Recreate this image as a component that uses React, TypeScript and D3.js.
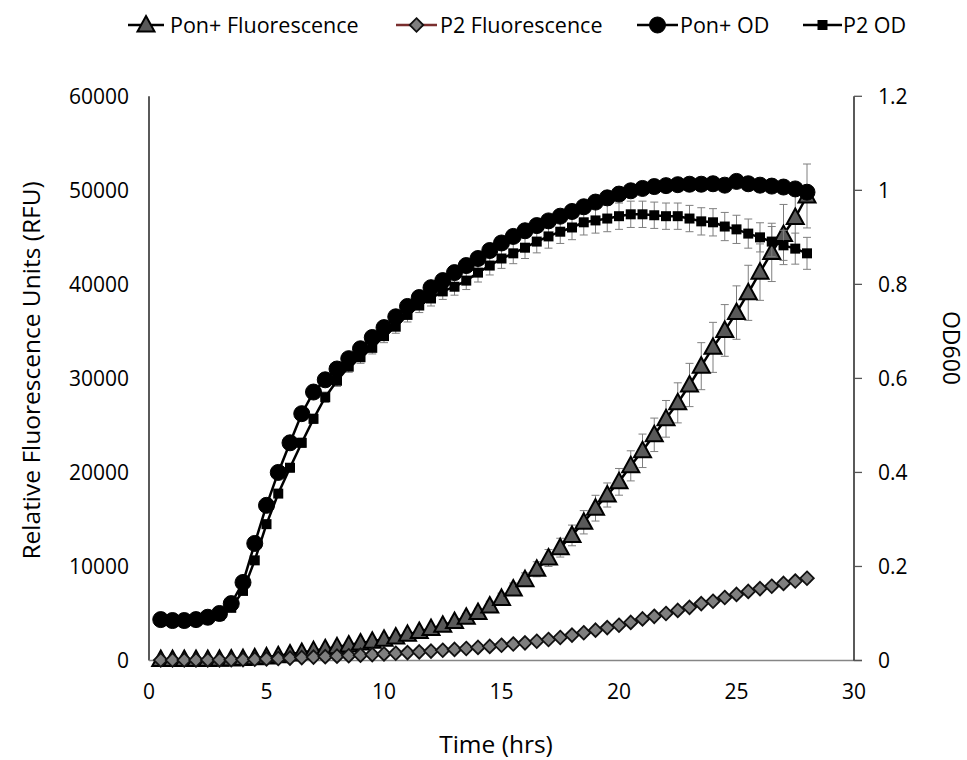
import React from "react";
import * as d3 from "d3";

const times = d3.range(1, 57).map((i) => i * 0.5);

const ponFluor = [100, 100, 100, 100, 100, 120, 150, 200, 280, 380, 500, 680, 850, 1050, 1250, 1450, 1650, 1850, 2050, 2250, 2500, 2780, 3080, 3400, 3750, 4150, 4600, 5100, 5800, 6600, 7600, 8600, 9700, 10900, 12000, 13300, 14700, 16200, 17600, 19000, 20700, 22300, 24000, 25700, 27400, 29300, 31300, 33300, 35100, 37000, 39100, 41300, 43400, 45300, 47100, 49400];
const ponFluorErr = [60, 60, 60, 60, 60, 60, 70, 80, 90, 100, 110, 120, 130, 140, 150, 160, 170, 180, 200, 220, 240, 260, 280, 300, 330, 360, 400, 440, 500, 560, 640, 720, 800, 900, 1000, 1100, 1240, 1370, 1280, 1420, 1600, 1780, 1780, 1950, 2130, 2300, 2500, 2660, 2750, 2840, 2930, 3000, 3100, 3200, 3300, 3400];

const p2Fluor = [50, 50, 50, 50, 60, 70, 80, 100, 130, 170, 210, 260, 310, 360, 410, 460, 510, 570, 630, 700, 770, 840, 920, 1000, 1090, 1180, 1280, 1390, 1500, 1620, 1750, 1880, 2050, 2230, 2450, 2700, 2950, 3230, 3500, 3750, 4050, 4420, 4700, 5000, 5330, 5650, 6050, 6300, 6700, 7030, 7350, 7650, 7900, 8200, 8450, 8750];
const p2FluorErr = [20, 20, 20, 20, 20, 20, 20, 30, 30, 30, 40, 40, 40, 50, 50, 50, 60, 60, 60, 70, 70, 80, 80, 90, 90, 100, 100, 110, 120, 130, 140, 150, 160, 170, 180, 190, 200, 210, 220, 230, 240, 250, 260, 270, 280, 290, 300, 310, 320, 330, 340, 350, 360, 370, 380, 400];

const ponOD = [0.087, 0.085, 0.085, 0.087, 0.092, 0.1, 0.121, 0.166, 0.249, 0.33, 0.4, 0.463, 0.525, 0.571, 0.597, 0.62, 0.642, 0.663, 0.687, 0.708, 0.731, 0.753, 0.772, 0.793, 0.808, 0.825, 0.84, 0.855, 0.872, 0.888, 0.902, 0.914, 0.925, 0.935, 0.945, 0.955, 0.965, 0.975, 0.984, 0.992, 0.999, 1.004, 1.008, 1.01, 1.012, 1.013, 1.013, 1.014, 1.011, 1.019, 1.014, 1.011, 1.009, 1.007, 1.003, 0.996];
const ponODErr = [0.002, 0.002, 0.002, 0.002, 0.002, 0.003, 0.003, 0.004, 0.005, 0.005, 0.005, 0.005, 0.005, 0.005, 0.005, 0.005, 0.005, 0.005, 0.005, 0.005, 0.006, 0.006, 0.006, 0.006, 0.006, 0.006, 0.006, 0.007, 0.007, 0.007, 0.007, 0.007, 0.007, 0.008, 0.008, 0.008, 0.008, 0.008, 0.008, 0.009, 0.009, 0.009, 0.009, 0.009, 0.01, 0.01, 0.01, 0.01, 0.01, 0.012, 0.01, 0.01, 0.01, 0.01, 0.01, 0.01];

const p2OD = [0.085, 0.084, 0.084, 0.085, 0.088, 0.095, 0.112, 0.148, 0.213, 0.29, 0.355, 0.41, 0.463, 0.514, 0.56, 0.595, 0.625, 0.645, 0.665, 0.69, 0.71, 0.735, 0.755, 0.77, 0.785, 0.795, 0.808, 0.825, 0.84, 0.855, 0.866, 0.878, 0.891, 0.902, 0.912, 0.921, 0.932, 0.936, 0.94, 0.945, 0.949, 0.949, 0.947, 0.945, 0.945, 0.94, 0.934, 0.932, 0.923, 0.917, 0.908, 0.9, 0.891, 0.883, 0.876, 0.866];
const p2ODErr = [0.003, 0.003, 0.003, 0.003, 0.003, 0.004, 0.004, 0.005, 0.006, 0.007, 0.008, 0.009, 0.01, 0.01, 0.011, 0.012, 0.012, 0.013, 0.013, 0.014, 0.014, 0.015, 0.015, 0.016, 0.017, 0.018, 0.019, 0.02, 0.02, 0.021, 0.022, 0.023, 0.024, 0.025, 0.025, 0.026, 0.027, 0.027, 0.028, 0.028, 0.028, 0.028, 0.028, 0.028, 0.028, 0.028, 0.029, 0.029, 0.03, 0.03, 0.031, 0.031, 0.032, 0.032, 0.033, 0.034];

const xTicks = [0, 5, 10, 15, 20, 25, 30];
const yLeftTicks = [0, 10000, 20000, 30000, 40000, 50000, 60000];
const yRightTicks = [0, 0.2, 0.4, 0.6, 0.8, 1, 1.2];
const legendLabels = ["Pon+ Fluorescence", "P2 Fluorescence", "Pon+ OD", "P2 OD"];

const FONT = "'Open Sans', 'Noto Sans', sans-serif";

const left = 149;
const right = 854;
const top = 96.3;
const bottom = 660.5;

const x = d3.scaleLinear().domain([0, 30]).range([left, right]);
const yL = d3.scaleLinear().domain([0, 60000]).range([bottom, top]);
const yR = d3.scaleLinear().domain([0, 1.2]).range([bottom, top]);

type Shape = "triangle" | "diamond" | "circle" | "square";

function Marker({ shape, cx, cy }: { shape: Shape; cx: number; cy: number }) {
  if (shape === "circle") return <circle cx={cx} cy={cy} r={8} fill="#000" stroke="#000" strokeWidth={1} />;
  if (shape === "square") return <rect x={cx - 5} y={cy - 5} width={10} height={10} fill="#000" />;
  if (shape === "triangle") {
    const p = `${cx},${cy - 9} ${cx + 8.5},${cy + 6.5} ${cx - 8.5},${cy + 6.5}`;
    return <polygon points={p} fill="#595959" stroke="#000" strokeWidth={2} strokeLinejoin="miter" />;
  }
  const p = `${cx},${cy - 6.8} ${cx + 6.8},${cy} ${cx},${cy + 6.8} ${cx - 6.8},${cy}`;
  return <polygon points={p} fill="#7f7f7f" stroke="#111" strokeWidth={1.8} />;
}

function Series({ vals, errs, y, shape, lineColor }: { vals: number[]; errs: number[]; y: d3.ScaleLinear<number, number>; shape: Shape; lineColor: string }) {
  const line = d3.line<number>().x((_, i) => x(times[i])).y((v) => y(v));
  return (
    <g>
      <g stroke="#7f7f7f" strokeWidth={1}>
        {vals.map((v, i) => {
          const cx = x(times[i]);
          const y1 = y(v + errs[i]);
          const y2 = y(v - errs[i]);
          return (
            <g key={i}>
              <line x1={cx} x2={cx} y1={y1} y2={y2} />
              <line x1={cx - 4} x2={cx + 4} y1={y1} y2={y1} />
              <line x1={cx - 4} x2={cx + 4} y1={y2} y2={y2} />
            </g>
          );
        })}
      </g>
      <path d={line(vals) || ""} fill="none" stroke={lineColor} strokeWidth={2.5} />
      {vals.map((v, i) => (
        <Marker key={i} shape={shape} cx={x(times[i])} cy={y(v)} />
      ))}
    </g>
  );
}

const legendItems: { shape: Shape; color: string; x0: number; x1: number; tx: number }[] = [
  { shape: "triangle", color: "#000", x0: 128, x1: 164, tx: 170 },
  { shape: "diamond", color: "#7a2e2e", x0: 396, x1: 437, tx: 440 },
  { shape: "circle", color: "#000", x0: 637, x1: 678, tx: 680 },
  { shape: "square", color: "#000", x0: 803, x1: 842, tx: 843 },
];

export default function App() {
  return (
    <svg width={967} height={760} style={{ position: "absolute", left: 0, top: 0, background: "#fff" }} fontFamily={FONT}>
      <rect width={967} height={760} fill="#fff" />
      {legendItems.map((it, i) => (
        <g key={i}>
          <line x1={it.x0} x2={it.x1} y1={25} y2={25} stroke={it.color} strokeWidth={2.5} />
          <Marker shape={it.shape} cx={(it.x0 + it.x1) / 2} cy={25} />
          <text x={it.tx} y={25} dy="0.35em" fontSize={21.5} fill="#000">{legendLabels[i]}</text>
        </g>
      ))}
      <line x1={left} x2={left} y1={top} y2={bottom} stroke="#000" strokeWidth={1.3} />
      <line x1={left} x2={right + 8} y1={bottom} y2={bottom} stroke="#868686" strokeWidth={1.3} />
      <line x1={right} x2={right} y1={top} y2={bottom} stroke="#000" strokeWidth={1.3} />
      {yRightTicks.map((t) => (
        <line key={t} x1={right} x2={right + 8} y1={yR(t)} y2={yR(t)} stroke="#555" strokeWidth={1.3} />
      ))}
      {yLeftTicks.map((t) => (
        <text key={t} x={129} y={yL(t)} dy="0.35em" textAnchor="end" fontSize={21} fill="#000">{t}</text>
      ))}
      {yRightTicks.map((t) => (
        <text key={t} x={878} y={yR(t)} dy="0.35em" textAnchor="start" fontSize={21} fill="#000">{t}</text>
      ))}
      {xTicks.map((t) => (
        <text key={t} x={x(t)} y={692} dy="0.35em" textAnchor="middle" fontSize={21} fill="#000">{t}</text>
      ))}
      <text x={496} y={744} dy="0.35em" textAnchor="middle" fontSize={24.5} fill="#000">Time (hrs)</text>
      <text transform={`translate(31,${(top + bottom) / 2 - 8}) rotate(-90)`} textAnchor="middle" dy="0.35em" fontSize={24.5} fill="#000">Relative Fluorescence Units (RFU)</text>
      <text transform={`translate(951,348) rotate(90)`} textAnchor="middle" dy="0.35em" fontSize={23} fill="#000">OD600</text>
      <Series vals={ponFluor} errs={ponFluorErr} y={yL} shape="triangle" lineColor="#000" />
      <Series vals={p2Fluor} errs={p2FluorErr} y={yL} shape="diamond" lineColor="#7a2e2e" />
      <Series vals={p2OD} errs={p2ODErr} y={yR} shape="square" lineColor="#000" />
      <Series vals={ponOD} errs={ponODErr} y={yR} shape="circle" lineColor="#000" />
    </svg>
  );
}
